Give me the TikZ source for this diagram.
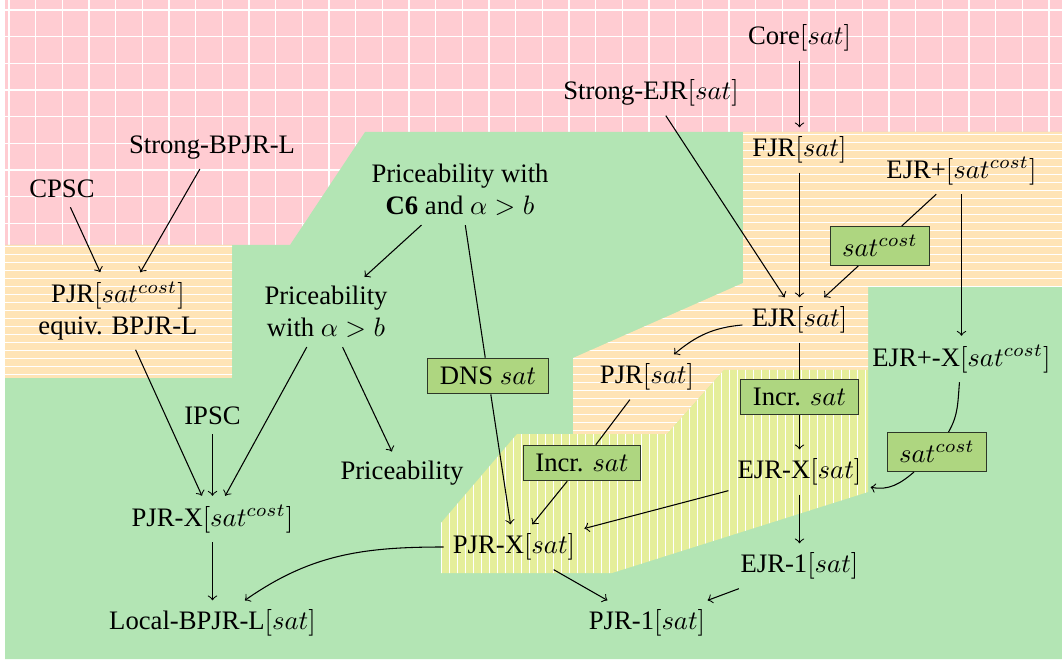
\documentclass[tikz,border=0pt]{standalone}
\usepackage{fontspec}
\setmainfont{Liberation Serif}
\usetikzlibrary{patterns,arrows,positioning}
\definecolor{regionpink}{RGB}{255,204,210}
\definecolor{regiongreen}{RGB}{179,229,180}
\definecolor{regionorange}{RGB}{255,228,182}
\definecolor{regionyellow}{RGB}{229,238,154}
\definecolor{boxgreen}{RGB}{174,214,128}
\definecolor{boxline}{RGB}{45,55,40}

\begin{document}
\begin{tikzpicture}[x=0.375pt,y=0.375pt]
\tikzstyle{prop}=[inner sep=3.3pt, align=center]
\tikzstyle{satbox}=[draw=boxline, fill=boxgreen, inner xsep=4.5pt, inner ysep=3.3pt]
\tikzstyle{gridline}=[white, line width=0.5pt]
\useasboundingbox (0,0) rectangle (1062,664);

% regions
\fill[regionpink] (5,5) rectangle (1062,664);
\foreach \k in {0,...,39} \draw[gridline] (9+26.67*\k,5) -- (9+26.67*\k,664);
\foreach \k in {0,...,24} \draw[gridline] (5,654-26.67*\k) -- (1062,654-26.67*\k);
\fill[regiongreen] (5,5) -- (1062,5) -- (1062,532) -- (365,532) -- (290,419) -- (5,419) -- cycle;
\path[preaction={fill=regionorange}, pattern=horizontal lines, pattern color=white]
  (5,286) rectangle (232,419);
\path[preaction={fill=regionorange}, pattern=horizontal lines, pattern color=white]
  (743,532) -- (1062,532) -- (1062,377) -- (868,377) -- (868,294) -- (724,294)
  -- (667,230) -- (573,230) -- (573,306) -- (743,381) -- cycle;
\path[preaction={fill=regionyellow}, pattern=vertical lines, pattern color=white]
  (441,141) -- (517,230) -- (667,230) -- (724,294) -- (868,294) -- (868,172)
  -- (612,91) -- (441,91) -- cycle;

% properties
\node[prop] (core) at (799.5,626) {Core$[sat]$};
\node[prop] (sejr) at (651,571) {Strong-EJR$[sat]$};
\node[prop] (fjr) at (799.5,514) {FJR$[sat]$};
\node[prop] (ejrp) at (961.5,493) {EJR+$[sat^{cost}]$};
\node[prop] (ejr) at (799.5,344) {EJR$[sat]$};
\node[prop] (ejrpx) at (961.5,305) {EJR+-X$[sat^{cost}]$};
\node[prop] (pjr) at (647,287) {PJR$[sat]$};
\node[prop] (ejrx) at (799.5,192) {EJR-X$[sat]$};
\node[prop] (pjrx) at (514,117) {PJR-X$[sat]$};
\node[prop] (ejra) at (799.5,98) {EJR-1$[sat]$};
\node[prop] (pjra) at (647,41) {PJR-1$[sat]$};
\node[prop] (local) at (212.5,41) {Local-BPJR-L$[sat]$};
\node[prop] (pjrxc) at (212.5,145) {PJR-X$[sat^{cost}]$};
\node[prop] (ipsc) at (212.5,248) {IPSC};
\node[prop] (price) at (402,191) {Priceability};
\node[prop] (pricea) at (326,352) {Priceability\\with $\alpha > b$};
\node[prop] (pricec) at (460,474) {Priceability with\\\textbf{C6} and $\alpha > b$};
\node[prop] (pjrc) at (118,353) {PJR$[sat^{cost}]$\\equiv. BPJR-L};
\node[prop] (cpsc) at (62,475) {CPSC};
\node[prop] (sbpjr) at (212,516) {Strong-BPJR-L};

% conditions
\node[satbox] (costa) at (880,418) {$sat^{cost}$};
\node[satbox] (incra) at (799.5,267) {Incr. $sat$};
\node[satbox] (costb) at (937,212) {$sat^{cost}$};
\node[satbox] (incrb) at (582,201) {Incr. $sat$};
\node[satbox] (dns) at (488,288) {DNS $sat$};

% implications
\path[->] (core) edge (fjr);
\path[->] (sejr) edge (ejr);
\path[->] (fjr) edge (ejr);
\path[-] (ejrp) edge (costa);
\path[->] (costa) edge (ejr);
\path[->] (ejrp) edge (ejrpx);
\path[->] (ejr) edge[out=185,in=40] (pjr);
\path[-] (ejr) edge (incra);
\path[->] (incra) edge (ejrx);
\path[-] (ejrpx) edge[out=-95,in=60] (costb);
\path[->] (costb) edge[out=-139,in=-12] (ejrx);
\path[->] (ejrx) edge (pjrx);
\path[->] (ejrx) edge (ejra);
\path[->] (ejra) edge (pjra);
\path[-] (pjr) edge (incrb);
\path[->] (incrb) edge (pjrx);
\path[-] (pricec) edge (dns);
\path[->] (dns) edge (pjrx);
\path[->] (pricec) edge (pricea);
\path[->] (pricea) edge (pjrxc);
\path[->] (pricea) edge (price);
\path[->] (pjrx) edge (pjra);
\path[->] (pjrx) edge[out=180,in=35] (local);
\path[->] (ipsc) edge (pjrxc);
\path[->] (pjrc) edge (pjrxc);
\path[->] (pjrxc) edge (local);
\path[->] (cpsc) edge (pjrc);
\path[->] (sbpjr) edge (pjrc);

\end{tikzpicture}
\end{document}
